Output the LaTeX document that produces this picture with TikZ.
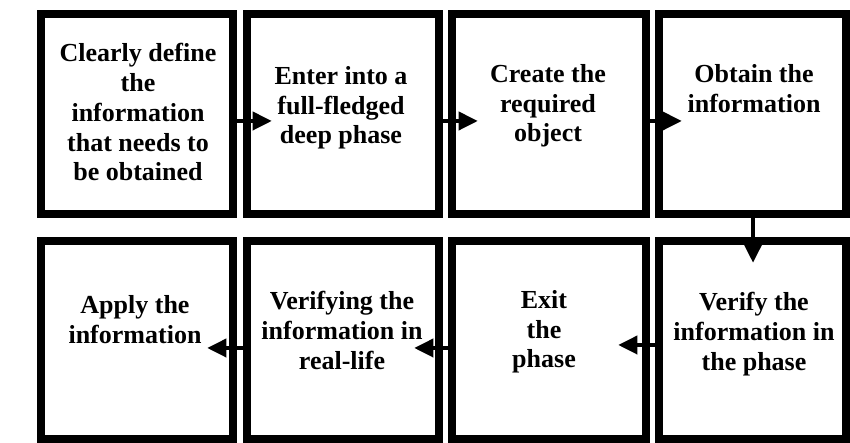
\documentclass[tikz,border=0pt]{standalone}
\usepackage{fontspec}
\setmainfont{Liberation Serif}
\usepackage{tikz}
\usetikzlibrary{arrows.meta}
\usetikzlibrary{positioning}

\begin{document}
\begin{tikzpicture}[>={Triangle[length=5.5pt,width=5pt]},
    box/.style={draw, line width=2.3pt, minimum width=1.92cm, minimum height=2cm, inner sep=0pt},
    txt/.style={anchor=north, align=center, inner sep=0pt, font=\bfseries\fontsize{7.4}{8.5}\selectfont},
    flow/.style={->, line width=1.4pt}]
      \useasboundingbox (0, 0) rectangle (8.5, 4.43);

      % top row
      \node[box] (b1) at (1.37, 3.29)  {};
      \node[box] (b2) at (3.43, 3.29)  {};
      \node[box, minimum width=1.94cm] (b3) at (5.49, 3.29)  {};
      \node[box, minimum width=1.87cm] (b4) at (7.525, 3.29) {};

      % bottom row
      \node[box, minimum width=1.87cm, minimum height=1.98cm] (b5) at (7.525, 1.03) {};
      \node[box, minimum width=1.94cm, minimum height=1.98cm] (b6) at (5.49, 1.03)  {};
      \node[box, minimum height=1.98cm] (b7) at (3.43, 1.03)  {};
      \node[box, minimum height=1.98cm] (b8) at (1.37, 1.03)  {};

      \node[txt] (t1) at (1.38, 4.005) {Clearly define\\the\\information\\that needs to\\be obtained};
      \node[txt] (t2) at (3.41, 3.775) {Enter into a\\full-fledged\\deep phase};
      \node[txt] (t3) at (5.48, 3.795) {Create the\\required\\object};
      \node[txt] (t4) at (7.54, 3.795) {Obtain the\\information};
      \node[txt] (t5) at (7.54, 1.515) {Verify the\\information in\\the phase};
      \node[txt] (t6) at (5.44, 1.535) {Exit\\the\\phase};
      \node[txt] (t7) at (3.42, 1.525) {Verifying the\\information in\\real-life};
      \node[txt] (t8) at (1.35, 1.485) {Apply the\\information};

      \coordinate (a2) at (2.72, 3.22);
      \coordinate (a3) at (4.78, 3.22);
      \coordinate (a4) at (6.82, 3.22);
      \coordinate (a5) at (7.53, 1.80);
      \coordinate (a6) at (6.18, 0.98);
      \coordinate (a7) at (4.14, 0.95);
      \coordinate (a8) at (2.07, 0.95);

      \draw[flow] (b1.east |- a2) -- (a2);
      \draw[flow] (b2.east |- a3) -- (a3);
      \draw[flow] (b3.east |- a4) -- (a4);
      \draw[flow] (b4.south -| a5) -- (a5);
      \draw[flow] (b5.west |- a6) -- (a6);
      \draw[flow] (b6.west |- a7) -- (a7);
      \draw[flow] (b7.west |- a8) -- (a8);
    \end{tikzpicture}
\end{document}
